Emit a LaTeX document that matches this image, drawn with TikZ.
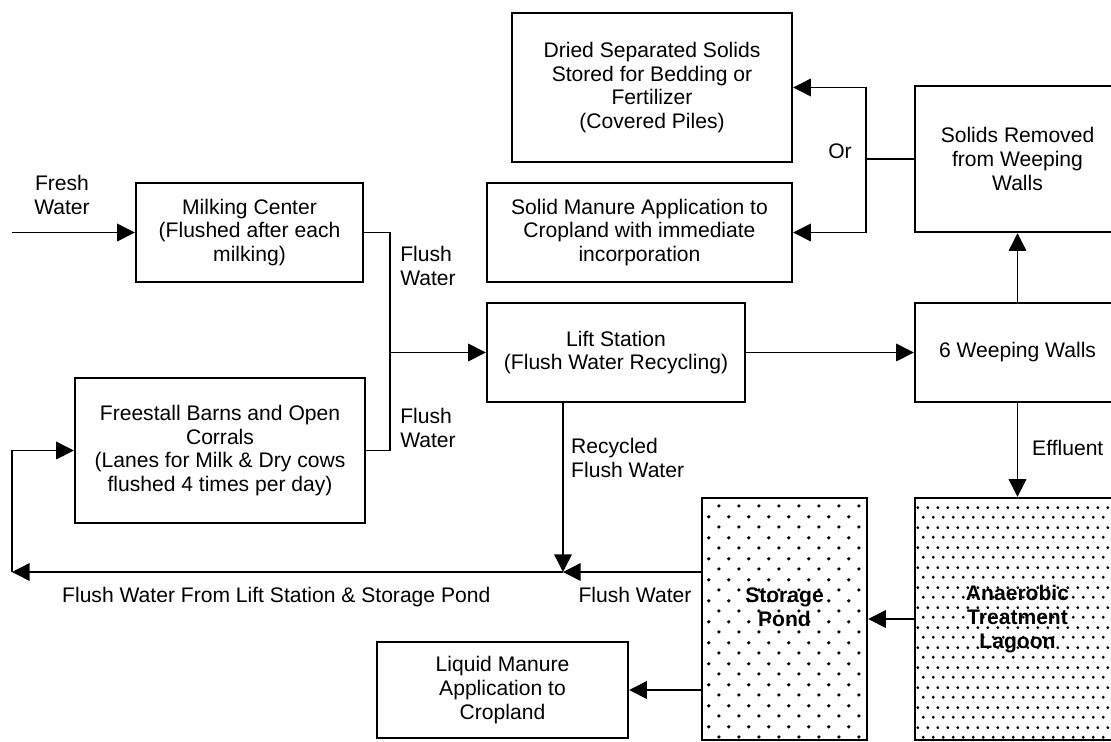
\documentclass[tikz,border=0pt]{standalone}
\usepackage{fontspec}
\setmainfont{Liberation Sans}
\usetikzlibrary{arrows.meta,patterns.meta}
\newcommand{\flowfont}{\fontsize{12}{13.5}\selectfont}

\tikzdeclarepattern{
  name=sparsedots,
  type=uncolored,
  bounding box={(0pt,0pt) and (11.3pt,12pt)},
  tile size={(11.3pt,12pt)},
  code={
    \fill (2.8pt,3pt) circle (1.05pt);
    \fill (8.45pt,9pt) circle (1.05pt);
  }
}
\tikzdeclarepattern{
  name=densedots,
  type=uncolored,
  bounding box={(0pt,0pt) and (5.7pt,11.4pt)},
  tile size={(5.7pt,11.4pt)},
  code={
    \fill (1.4pt,2.85pt) circle (0.95pt);
    \fill (4.25pt,8.55pt) circle (0.95pt);
  }
}

\begin{document}
\begin{tikzpicture}[x=0.02cm,y=-0.02cm,font=\flowfont,
  box/.style={draw,line width=1.4pt,align=center,inner sep=2pt},
  flow/.style={line width=0.8pt,-{Triangle[length=10pt,width=10pt]}},
  pipe/.style={line width=0.8pt}]
  \useasboundingbox (0,0) rectangle (1111,741);
  % boxes
  \node[box,minimum width=4.54cm,minimum height=1.98cm] (milk) at (249.5,232.5)
     {Milking Center\\(Flushed after each\\milking)};
  \node[box,minimum width=5.8cm,minimum height=2.9cm] (barns) at (220,450.5)
     {Freestall Barns and Open\\Corrals\\(Lanes for Milk \& Dry cows\\flushed 4 times per day)};
  \node[box,minimum width=5.6cm,minimum height=2.98cm] (dried) at (652,87.5)
     {Dried Separated Solids\\Stored for Bedding or\\Fertilizer\\(Covered Piles)};
  \node[box,minimum width=6.1cm,minimum height=1.98cm] (solid) at (639.5,232.5)
     {Solid Manure Application to\\Cropland with immediate\\incorporation};
  \node[box,minimum width=5.16cm,minimum height=1.98cm] (lift) at (616,352.5)
     {Lift Station\\(Flush Water Recycling)};
  \node[box,minimum width=4.1cm,minimum height=2.92cm] (rem) at (1017.5,159)
     {Solids Removed\\from Weeping\\Walls};
  \node[box,minimum width=4.1cm,minimum height=1.98cm] (weep) at (1017.5,352.5)
     {6 Weeping Walls};
  \node[box,pattern=sparsedots,minimum width=3.3cm,minimum height=4.84cm] (pond) at (784.5,619) {};
  \node[font=\flowfont\bfseries,align=center] (pondtxt) at (784.5,607) {Storage\\Pond};
  \node[box,pattern=densedots,font=\flowfont\bfseries,minimum width=4.1cm,minimum height=4.84cm] (lagoon) at (1017.5,619)
     {Anaerobic\\Treatment\\Lagoon};
  \node[box,minimum width=5.02cm,minimum height=1.92cm] (liq) at (502.5,690)
     {Liquid Manure\\Application to\\Cropland};
  % junctions
  \coordinate (fresh) at (12,232.5);
  \coordinate (mj) at (390,352.5);
  \coordinate (orj) at (866,159);
  \coordinate (jn) at (563,572);
  \coordinate (back) at (12,572);
  % connectors
  \draw[flow] (fresh) -- (milk.west);
  \draw[pipe] (milk.east) -| (mj);
  \draw[pipe] (barns.east) -| (mj);
  \draw[flow] (mj) -- (lift.west);
  \draw[flow] (lift.east) -- (weep.west);
  \draw[flow] (weep.north) -- (rem.south);
  \draw[pipe] (rem.west) -- (orj);
  \draw[flow] (orj) |- (dried.east);
  \draw[flow] (orj) |- (solid.east);
  \draw[flow] (weep.south) -- (lagoon.north);
  \draw[flow] (lagoon.west) -- (pond.east);
  \draw[flow] (jn |- lift.south) -- (jn);
  \draw[flow] (pond.west |- jn) -- (jn);
  \draw[flow] (pond.west |- liq.east) -- (liq.east);
  \draw[flow] (jn) -- (back);
  \draw[flow] (back) |- (barns.west);
  % labels
  \node[align=center] (freshlbl) at (62,195) {Fresh\\Water};
  \node[align=left] (fw1) at (428,266) {Flush\\Water};
  \node[align=left] (fw2) at (428,428) {Flush\\Water};
  \node (orlbl) at (840,151) {Or};
  \node[align=left,anchor=west] (recl) at (565,458) {Recycled\\Flush Water};
  \node (fw3) at (635,595) {Flush Water};
  \node[anchor=west] (fwback) at (56,597) {Flush Water From Lift Station \& Storage Pond};
  \node[anchor=west] (effl) at (1026,448) {Effluent};
\end{tikzpicture}
\end{document}
